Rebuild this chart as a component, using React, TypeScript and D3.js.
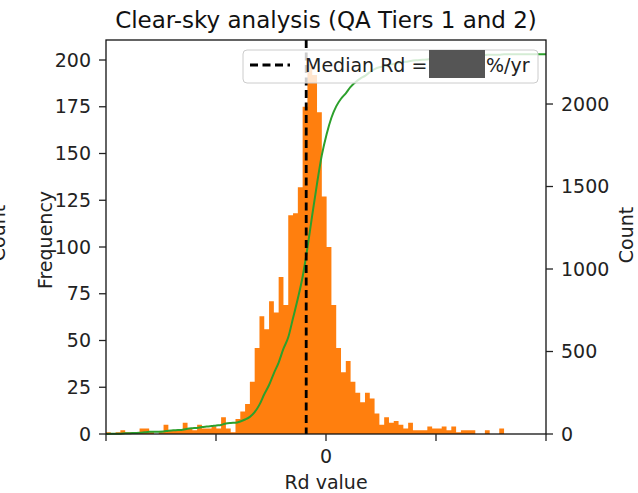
import React from "react";
import * as d3 from "d3";

// ---- data ----
const binStart = -2;
const binWidth = 0.0436;
const frequency = [
  1, 0, 1, 2, 1, 1, 1, 3, 3, 1, 0, 1, 5, 2, 2, 2, 6, 3, 2, 5, 3, 3, 4, 3, 9,
  3, 1, 8, 12, 16, 28, 46, 63, 56, 71, 65, 84, 69, 117, 118, 132, 175, 198, 192, 172, 127, 100, 69,
  46, 33, 39, 28, 22, 17, 22, 19, 11, 5, 9, 6, 7, 5, 3, 6, 2, 2, 2, 4, 3, 3, 4, 2, 4, 1, 2, 2, 2, 0, 0, 2, 0, 0, 3,
];
const medianRd = -0.18;
const xTicks = [-2, -1, 0, 1, 2];
const xTickLabels = ["", "", "0", "", ""];
const freqTicks = [0, 25, 50, 75, 100, 125, 150, 175, 200];
const countTicks = [0, 500, 1000, 1500, 2000];

const W = 638;
const H = 493;
const M = { left: 106, right: 546, top: 40, bottom: 434 };
const FONT = "DejaVu Sans, sans-serif";

export default function App() {
  const x = d3.scaleLinear().domain([-2, 2]).range([M.left, M.right]);
  const yF = d3.scaleLinear().domain([0, 210.7]).range([M.bottom, M.top]);
  const yC = d3.scaleLinear().domain([0, 2388]).range([M.bottom, M.top]);

  const bins = frequency.map((f, i) => ({ x0: binStart + i * binWidth, x1: binStart + (i + 1) * binWidth, f }));

  // single outline path for the histogram (no seams between bars)
  const hp = d3.path();
  hp.moveTo(x(bins[0].x0), yF(0));
  bins.forEach((b) => {
    hp.lineTo(x(b.x0), yF(b.f));
    hp.lineTo(x(b.x1), yF(b.f));
  });
  hp.lineTo(x(bins[bins.length - 1].x1), yF(0));
  hp.closePath();

  const cum = d3.cumsum(frequency);
  const cdfPts: [number, number][] = [[binStart, 0]];
  bins.forEach((b, i) => cdfPts.push([b.x1, cum[i]]));
  cdfPts.push([2, cum[cum.length - 1]]);
  const line = d3
    .line<[number, number]>()
    .x((d) => x(d[0]))
    .y((d) => yC(d[1]))
    .curve(d3.curveMonotoneX);

  const tickColor = "#222";
  return (
    <svg width={W} height={H} style={{ position: "absolute", left: 0, top: 0, background: "#fff" }} fontFamily={FONT}>
      <rect x={0} y={0} width={W} height={H} fill="#fff" />
      {/* histogram */}
      <path d={hp.toString()} fill="#ff7f0e" stroke="none" />
      {/* cumulative count */}
      <path d={line(cdfPts) || ""} fill="none" stroke="#2ca02c" strokeWidth={2} />
      {/* median line */}
      <line
        x1={x(medianRd)}
        x2={x(medianRd)}
        y1={M.top}
        y2={M.bottom}
        stroke="#000"
        strokeWidth={2.8}
        strokeDasharray="8,4.5"
      />
      {/* spines */}
      <rect x={M.left} y={M.top} width={M.right - M.left} height={M.bottom - M.top} fill="none" stroke="#111" strokeWidth={1.3} />
      {/* x ticks */}
      {xTicks.map((t, i) => (
        <g key={i}>
          <line x1={x(t)} x2={x(t)} y1={M.bottom} y2={M.bottom + 7} stroke={tickColor} strokeWidth={1.3} />
          <text x={x(t)} y={463} textAnchor="middle" fontSize={19} fill={tickColor}>
            {xTickLabels[i]}
          </text>
        </g>
      ))}
      {/* left ticks */}
      {freqTicks.map((t) => (
        <g key={t}>
          <line x1={M.left - 7} x2={M.left} y1={yF(t)} y2={yF(t)} stroke={tickColor} strokeWidth={1.3} />
          <text x={91} y={yF(t)} dy="0.35em" textAnchor="end" fontSize={19} fill={tickColor}>
            {t}
          </text>
        </g>
      ))}
      {/* right ticks */}
      {countTicks.map((t) => (
        <g key={t}>
          <line x1={M.right} x2={M.right + 7} y1={yC(t)} y2={yC(t)} stroke={tickColor} strokeWidth={1.3} />
          <text x={561} y={yC(t)} dy="0.35em" textAnchor="start" fontSize={19} fill={tickColor}>
            {t}
          </text>
        </g>
      ))}
      {/* axis labels */}
      <text x={326} y={489} textAnchor="middle" fontSize={19} fill={tickColor}>
        Rd value
      </text>
      <text transform="translate(52,240) rotate(-90)" textAnchor="middle" fontSize={19} fill={tickColor}>
        Frequency
      </text>
      <text transform="translate(633,235) rotate(-90)" textAnchor="middle" fontSize={19} fill={tickColor}>
        Count
      </text>
      <text transform="translate(5,233) rotate(-90)" textAnchor="middle" fontSize={19} fill={tickColor}>
        Count
      </text>
      {/* title */}
      <text x={326} y={28} textAnchor="middle" fontSize={23} fill="#111">
        Clear-sky analysis (QA Tiers 1 and 2)
      </text>
      {/* legend */}
      <g>
        <rect x={243} y={50} width={295} height={33} rx={4} fill="#fff" fillOpacity={0.8} stroke="#ccc" strokeWidth={1} />
        <line x1={250} x2={290} y1={65} y2={65} stroke="#000" strokeWidth={2.8} strokeDasharray="8,4.5" />
        <text x={305} y={72} fontSize={19} fill={tickColor}>
          Median Rd =
        </text>
        <rect x={429} y={50} width={56} height={28} fill="#555" />
        <text x={486} y={72} fontSize={19} fill={tickColor}>
          %/yr
        </text>
      </g>
    </svg>
  );
}
